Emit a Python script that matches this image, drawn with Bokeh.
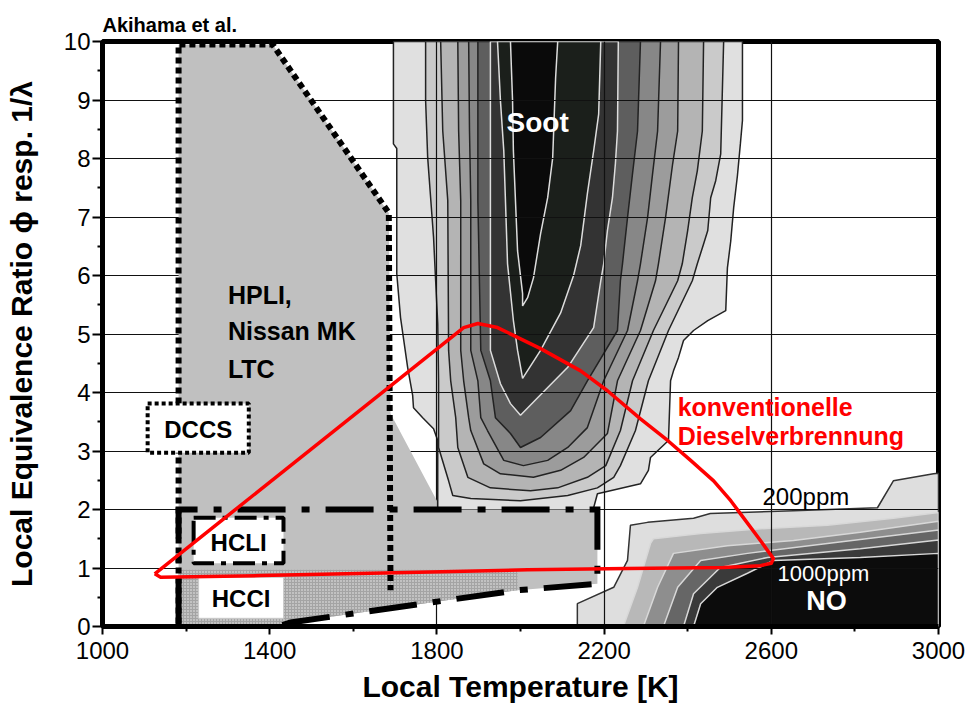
from bokeh.plotting import figure
from bokeh.models import FixedTicker, Range1d
from bokeh.embed import file_html
from bokeh.resources import INLINE
from bokeh.core.properties import value

FONT = "Liberation Sans"

# ---------------- axes ----------------
x_major_ticks = [1000, 1400, 1800, 2200, 2600, 3000]
x_minor_ticks = [1200, 1600, 2000, 2400, 2800]
y_major_ticks = [0, 1, 2, 3, 4, 5, 6, 7, 8, 9, 10]
y_minor_ticks = [0.5, 1.5, 2.5, 3.5, 4.5, 5.5, 6.5, 7.5, 8.5, 9.5]
x_title = "Local Temperature [K]"
y_title = "Local Equivalence Ratio \u03d5 resp. 1/\u03bb"

# ---------------- soot contour levels (outer -> inner): T [K], phi ----------------
soot0_T = [1696, 1696, 1704, 1704, 1713, 1730, 1742, 1744, 1766, 1792, 1802, 1802,
           2175, 2175, 2184, 2287, 2306, 2311, 2354, 2359, 2366, 2378, 2390, 2414,
           2448, 2491, 2495, 2503, 2510, 2519, 2526, 2531, 2531]
soot0_phi = [10, 8.25, 8.17, 6.03, 5.28, 4.43, 3.95, 3.74, 3.57, 3.38, 3.18, 1.95,
             1.95, 2.03, 2.27, 2.44, 2.67, 2.89, 3.18, 4.2, 4.37, 4.6, 4.89, 5.06,
             5.23, 5.4, 6.13, 6.59, 7.16, 7.71, 8.25, 8.65, 10]
soot1_T = [1773, 1773, 1778, 1785, 1792, 1797, 1802, 1804, 1804, 1828, 1838, 1881, 2000, 2113,
           2184, 2223, 2239, 2275, 2306, 2354, 2411, 2423, 2438, 2448, 2455, 2467, 2479, 2486]
soot1_phi = [10, 8.99, 8.01, 7.33, 6.65, 5.91, 5.18, 4.2, 3.06, 2.49, 2.24, 2.19, 2.15, 2.24,
             2.37, 2.55, 2.75, 3.35, 4.2, 5.06, 5.91, 6.2, 6.54, 6.77, 7.33, 7.62, 8.08, 10]
soot2_T = [1809, 1814, 1826, 1828, 1833, 1845, 1850, 1874, 1928, 2024, 2089, 2160,
           2204, 2239, 2268, 2318, 2376, 2387, 2400, 2411, 2423, 2435, 2438]
soot2_phi = [10, 8.47, 7.28, 4.72, 4.2, 3.57, 3.06, 2.55, 2.37, 2.32, 2.37, 2.55,
             2.75, 3.35, 4.2, 5.06, 5.91, 6.2, 6.77, 7.33, 7.79, 8.47, 10]
soot3_T = [1850, 1852, 1857, 1857, 1864, 1876, 1881, 1912, 1952, 2031, 2096,
           2151, 2208, 2232, 2287, 2323, 2330, 2347, 2364, 2376, 2378]
soot3_phi = [10, 8.47, 7.28, 4.72, 4.2, 3.57, 3.35, 2.78, 2.61, 2.55, 2.67,
             2.89, 3.3, 4.2, 5.06, 5.91, 6.2, 6.99, 7.91, 8.47, 10]
soot4_T = [1876, 1878, 1881, 1881, 1898, 1905, 1921, 1960, 2007, 2065,
           2113, 2160, 2199, 2256, 2280, 2287, 2304, 2316, 2328, 2335]
soot4_phi = [10, 8.47, 7.28, 4.72, 4.2, 3.57, 3.35, 2.84, 2.75, 2.84,
             3.06, 3.4, 4.2, 5.06, 5.91, 6.2, 6.99, 7.74, 8.47, 10]
soot5_T = [1898, 1898, 1898, 1905, 1928, 1940, 1976, 2000, 2048,
           2120, 2160, 2232, 2239, 2244, 2256, 2268, 2280, 2287]
soot5_phi = [10, 8.47, 7.28, 4.72, 4.2, 3.57, 3.3, 3.06, 3.23,
             3.69, 4.2, 5.06, 5.91, 6.2, 6.99, 7.74, 8.47, 10]
soot6_T = [1928, 1928, 1928, 1952, 1976, 2000, 2041, 2113, 2175, 2192, 2199, 2208, 2220, 2227, 2232, 2234]
soot6_phi = [10, 7.28, 4.72, 4.15, 3.81, 3.61, 3.91, 4.43, 5.11, 5.91, 6.2, 6.77, 7.33, 7.91, 8.47, 10]
soot7_T = [1945, 1952, 1960, 1964, 1969, 1983, 1993, 2005, 2048, 2096, 2127, 2144, 2160, 2175, 2187, 2192]
soot7_phi = [10, 8.99, 8.13, 7.28, 6.2, 5.23, 4.72, 4.24, 4.72, 5.36, 6.0, 6.51, 7.4, 8.13, 8.76, 10]
soot8_T = [1976, 1981, 1983, 1993, 2005, 2005, 2017, 2031, 2048, 2065, 2077, 2084, 2089]
soot8_phi = [10, 8.99, 8.13, 6.42, 5.69, 5.48, 5.62, 5.96, 6.71, 7.33, 8.01, 9.38, 10]

soot_fill = ["#e0e0e0", "#cacaca", "#b4b4b4", "#9c9c9c", "#878787",
             "#5e5e5e", "#333333", "#1b1f1b", "#0a0a0a"]
soot_edge = ["#222222", "#222222", "#222222", "#222222", "#222222",
             "#222222", "#dddddd", "#dddddd", "#dddddd"]

# ---------------- NO contour levels (outer -> inner) ----------------
no0_T = [2136, 2136, 2223, 2256, 2263, 2304, 2414, 2454, 2653, 2854, 2892, 2988, 3000, 3000]
no0_phi = [0, 0.39, 0.67, 1.13, 1.73, 1.78, 1.85, 1.93, 1.98, 2.03, 2.49, 2.61, 2.62, 0]
no1_T = [2246, 2280, 2311, 2318, 2431, 2574, 2734, 2892, 3000, 3000]
no1_phi = [0, 0.67, 1.42, 1.50, 1.59, 1.67, 1.73, 1.85, 1.95, 0]
no2_T = [2294, 2328, 2366, 2495, 2653, 2813, 3000, 3000]
no2_phi = [0, 0.67, 1.25, 1.38, 1.47, 1.61, 1.80, 0]
no3_T = [2342, 2376, 2431, 2543, 2734, 3000, 3000]
no3_phi = [0, 0.67, 1.13, 1.25, 1.42, 1.65, 0]
no4_T = [2390, 2414, 2478, 2591, 2813, 3000, 3000]
no4_phi = [0, 0.56, 1.01, 1.18, 1.33, 1.48, 0]
no5_T = [2414, 2431, 2471, 2543, 2605, 2813, 3000, 3000]
no5_phi = [0, 0.39, 0.67, 0.91, 1.13, 1.18, 1.25, 0]

no_fill = ["#dedede", "#b8b8b8", "#8e8e8e", "#666666", "#3a3a3a", "#0c0c0c"]
no_edge = ["#333333", "#d8d8d8", "#d8d8d8", "#d8d8d8", "#d8d8d8", "#d8d8d8"]

# ---------------- combustion-mode regions ----------------
hpli_T = [1182, 1407, 1685, 1689, 1800, 1800, 2184, 2184, 1993, 1450, 1420, 1182]
hpli_phi = [9.95, 9.95, 7.07, 3.64, 2.15, 2.0, 2.0, 0.73, 0.62, 0.07, 0.0, 0.0]
hpli_border_T = [1182, 1182, 1407, 1685, 1689]
hpli_border_phi = [0.05, 9.95, 9.95, 7.07, 0.62]
hcli_border_T = [1182, 1182, 2184, 2184, 1993, 1450, 1420]
hcli_border_phi = [0.0, 2.0, 2.0, 0.73, 0.62, 0.07, 0.0]
hcci_T = [1182, 1420, 1450, 1993, 1993, 1182]
hcci_phi = [0.0, 0.0, 0.07, 0.62, 0.97, 0.97]

# label boxes: T left, T right, phi bottom, phi top
dccs_box = (1108, 1350, 2.97, 3.81)
hcli_box = (1218, 1433, 1.08, 1.86)
hcci_box = (1230, 1433, 0.14, 0.84)

# conventional diesel combustion envelope
diesel_T = [1125, 1864, 1898, 1945, 2048, 2144, 2208, 2287, 2352, 2407, 2462, 2503, 2526, 2574,
            2605, 2600, 2574, 2486, 2256, 2017, 1701, 1378, 1139, 1125]
diesel_phi = [0.9, 5.11, 5.18, 5.11, 4.75, 4.37, 4.03, 3.55, 3.18, 2.84, 2.49, 2.15, 1.93, 1.47,
              1.16, 1.08, 1.04, 1.01, 0.99, 0.97, 0.92, 0.87, 0.84, 0.9]

# ---------------- figure ----------------
p = figure(width=967, height=706, x_range=Range1d(1000, 3000), y_range=Range1d(0, 10),
           output_backend="svg", toolbar_location=None,
           min_border_left=102, min_border_right=29, min_border_top=41, min_border_bottom=80)
p.background_fill_color = "white"
p.border_fill_color = "white"
p.outline_line_color = "black"
p.outline_line_width = 5

p.title.text = "Akihama et al."
p.title.text_font = FONT
p.title.text_font_size = "20px"
p.title.text_font_style = "bold"
p.title.text_color = "black"
p.title.align = "left"
p.title.standoff = 12

p.xaxis.ticker = FixedTicker(ticks=x_major_ticks, minor_ticks=x_minor_ticks)
p.yaxis.ticker = FixedTicker(ticks=y_major_ticks, minor_ticks=y_minor_ticks)
for ax in (p.xaxis[0], p.yaxis[0]):
    ax.axis_line_width = 5
    ax.major_tick_line_width = 2
    ax.minor_tick_line_width = 2
    ax.major_tick_in = 0
    ax.minor_tick_in = 0
    ax.minor_tick_out = 5
    ax.major_label_text_font = FONT
    ax.major_label_text_font_size = "24px"
    ax.major_label_text_color = "black"
    ax.axis_label_text_font = FONT
    ax.axis_label_text_font_size = "30px"
    ax.axis_label_text_font_style = "bold"
    ax.axis_label_text_color = "black"
p.xaxis.major_tick_out = 8
p.yaxis.major_tick_out = 10
p.xaxis.major_label_standoff = 7
p.yaxis.major_label_standoff = 2
p.xaxis.axis_label = x_title
p.yaxis.axis_label = y_title
p.xaxis.axis_label_standoff = 8
p.yaxis.axis_label_standoff = 23

p.grid.grid_line_color = "#111111"
p.grid.grid_line_width = 1.2

# contours (below the grid)
soot_T = [soot0_T, soot1_T, soot2_T, soot3_T, soot4_T, soot5_T, soot6_T, soot7_T, soot8_T]
soot_phi = [soot0_phi, soot1_phi, soot2_phi, soot3_phi, soot4_phi, soot5_phi, soot6_phi, soot7_phi, soot8_phi]
for T, phi, fc, lc in zip(soot_T, soot_phi, soot_fill, soot_edge):
    p.patch(T, phi, fill_color=fc, line_color=lc, line_width=1.5, level="image")

no_T = [no0_T, no1_T, no2_T, no3_T, no4_T, no5_T]
no_phi = [no0_phi, no1_phi, no2_phi, no3_phi, no4_phi, no5_phi]
for T, phi, fc, lc in zip(no_T, no_phi, no_fill, no_edge):
    p.patch(T, phi, fill_color=fc, line_color=lc, line_width=1.5, level="image")

# regions
p.patch(hpli_T, hpli_phi, fill_color="#c0c0c0", line_color=None)
p.patch(hcci_T, hcci_phi, fill_color="#a4a4a4", line_color=None,
        hatch_pattern="dot", hatch_color="#f0f0f0", hatch_scale=3, hatch_weight=1)
p.line(hpli_border_T, hpli_border_phi, line_color="black", line_width=6,
       line_dash="6 4", line_join="miter")
p.line(hcli_border_T, hcli_border_phi, line_color="black", line_width=6,
       line_dash="48 16 8 16", line_join="miter")

# label boxes
p.quad(left=[dccs_box[0]], right=[dccs_box[1]], bottom=[dccs_box[2]], top=[dccs_box[3]],
       fill_color="white", line_color="black", line_width=4, line_dash="4 3")
p.quad(left=[hcli_box[0]], right=[hcli_box[1]], bottom=[hcli_box[2]], top=[hcli_box[3]],
       fill_color="white", line_color="black", line_width=4, line_dash="22 7 5 7")
p.quad(left=[hcci_box[0]], right=[hcci_box[1]], bottom=[hcci_box[2]], top=[hcci_box[3]],
       fill_color="white", line_color="#cccccc", line_width=1)

# texts
def txt(x, y, s, size, color="black", style="bold", align="left"):
    p.text(x=[x], y=[y], text=[s], text_font=value(FONT), text_font_size=size,
           text_font_style=style, text_color=color, text_align=align, text_baseline="middle")

txt(1300, 5.66, "HPLI,", "25px")
txt(1300, 5.05, "Nissan MK", "25px")
txt(1300, 4.40, "LTC", "25px")
txt((dccs_box[0] + dccs_box[1]) / 2, 3.37, "DCCS", "24px", align="center")
txt((hcli_box[0] + hcli_box[1]) / 2, 1.44, "HCLI", "24px", align="center")
txt((hcci_box[0] + hcci_box[1]) / 2, 0.48, "HCCI", "24px", align="center")
txt(2041, 8.62, "Soot", "28px", color="white", align="center")
txt(2376, 3.76, "konventionelle", "25px", color="#ff0000")
txt(2376, 3.26, "Dieselverbrennung", "25px", color="#ff0000")
txt(2579, 2.22, "200ppm", "24px", style="normal")
txt(2615, 0.90, "1000ppm", "22px", color="white", style="normal")
txt(2732, 0.44, "NO", "27px", color="white", align="center")

# conventional diesel envelope on top
p.line(diesel_T, diesel_phi, line_color="#ff0000", line_width=3.5, line_join="round")

open("out.html", "w").write(file_html(p, INLINE))
